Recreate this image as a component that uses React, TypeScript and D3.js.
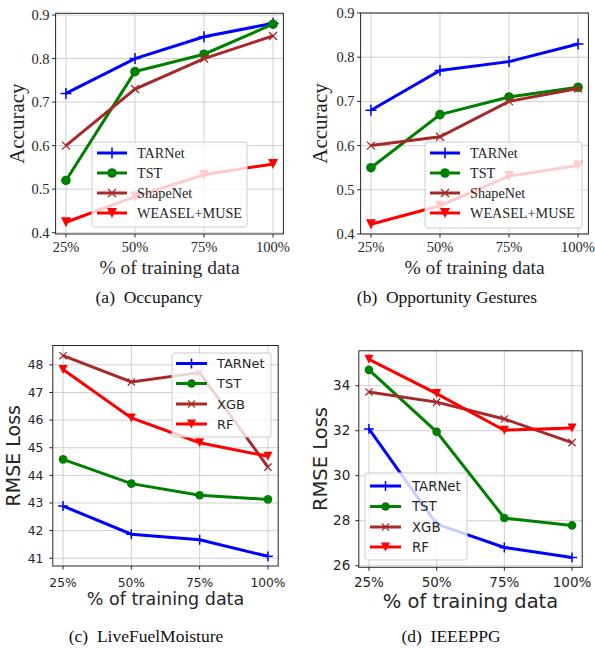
import React from 'react';
import * as d3 from 'd3';

// x categories shared by all four panels
const trainPct = ['25%', '50%', '75%', '100%'];

// (a) Occupancy
const occTARNet = [0.72, 0.8, 0.85, 0.881];
const occTST = [0.52, 0.77, 0.81, 0.879];
const occShapeNet = [0.6, 0.73, 0.8, 0.852];
const occWeasel = [0.424, 0.483, 0.533, 0.558];
const occTicks = [0.4, 0.5, 0.6, 0.7, 0.8, 0.9];

// (b) Opportunity Gestures
const oppTARNet = [0.68, 0.77, 0.79, 0.83];
const oppTST = [0.55, 0.67, 0.71, 0.732];
const oppShapeNet = [0.6, 0.62, 0.7, 0.729];
const oppWeasel = [0.422, 0.464, 0.531, 0.555];
const oppTicks = [0.4, 0.5, 0.6, 0.7, 0.8, 0.9];

// (c) LiveFuelMoisture
const lfmTARNet = [42.89, 41.87, 41.67, 41.07];
const lfmTST = [44.58, 43.7, 43.28, 43.13];
const lfmXGB = [48.33, 47.38, 47.72, 44.3];
const lfmRF = [47.83, 46.08, 45.18, 44.69];
const lfmTicks = [41, 42, 43, 44, 45, 46, 47, 48];

// (d) IEEEPPG
const ppgTARNet = [32.08, 27.85, 26.81, 26.37];
const ppgTST = [34.7, 31.95, 28.12, 27.79];
const ppgXGB = [33.72, 33.27, 32.52, 31.47];
const ppgRF = [35.17, 33.65, 32.02, 32.12];
const ppgTicks = [26, 28, 30, 32, 34];

const BLUE = '#0000ff';
const GREEN = '#008000';
const BROWN = '#a52a2a';
const RED = '#ff0000';

type Mk = 'plus' | 'circle' | 'x' | 'tri';

const Marker = ({ t, x, y, c, s }: { t: Mk; x: number; y: number; c: string; s: number }) => {
  if (t === 'circle') return <circle cx={x} cy={y} r={s * 0.48} fill={c} />;
  if (t === 'plus')
    return <path d={`M${x - s * 0.55},${y}H${x + s * 0.55}M${x},${y - s * 0.55}V${y + s * 0.55}`} stroke={c} strokeWidth={1.5} />;
  if (t === 'x') {
    const h = s * 0.4;
    return <path d={`M${x - h},${y - h}L${x + h},${y + h}M${x - h},${y + h}L${x + h},${y - h}`} stroke={c} strokeWidth={1.3} />;
  }
  const h = s * 0.5;
  return <path d={`M${x - h},${y - h}L${x + h},${y - h}L${x},${y + h}Z`} fill={c} />;
};

const serif = 'Liberation Serif, Times New Roman, serif';
const sans = 'DejaVu Sans, sans-serif';

const panels = [
  {
    box: [55.6, 13.3, 283.4, 234], dom: [0.397, 0.904], ticks: occTicks, fmt: d3.format('.1f'),
    font: serif, tickSize: 14.5, labSize: 19.5, ylabSize: 21, ylab: 'Accuracy', ylabX: 17, xlabY: 274, tickY: 252, gap: 6,
    caption: '(a)  Occupancy', capX: 149, capY: 303, legFont: 14.2, lw: 3, ms: 10,
    series: [
      { name: 'TARNet', v: occTARNet, c: BLUE, m: 'plus' as Mk },
      { name: 'TST', v: occTST, c: GREEN, m: 'circle' as Mk },
      { name: 'ShapeNet', v: occShapeNet, c: BROWN, m: 'x' as Mk },
      { name: 'WEASEL+MUSE', v: occWeasel, c: RED, m: 'tri' as Mk },
    ],
    leg: { x: 92, y: 142, w: 155, h: 85, rows: [153, 173, 193, 213], hx: 97, hw: 30, tx: 137 },
  },
  {
    box: [360.6, 13, 588.4, 234], dom: [0.4, 0.9], ticks: oppTicks, fmt: d3.format('.1f'),
    font: serif, tickSize: 14.5, labSize: 19.5, ylabSize: 21, ylab: 'Accuracy', ylabX: 320, xlabY: 274, tickY: 252, gap: 6,
    caption: '(b)  Opportunity Gestures', capX: 447, capY: 303, legFont: 14.2, lw: 3, ms: 10,
    series: [
      { name: 'TARNet', v: oppTARNet, c: BLUE, m: 'plus' as Mk },
      { name: 'TST', v: oppTST, c: GREEN, m: 'circle' as Mk },
      { name: 'ShapeNet', v: oppShapeNet, c: BROWN, m: 'x' as Mk },
      { name: 'WEASEL+MUSE', v: oppWeasel, c: RED, m: 'tri' as Mk },
    ],
    leg: { x: 425, y: 142, w: 157, h: 86, rows: [153, 173, 193, 213], hx: 430, hw: 30, tx: 470 },
  },
  {
    box: [52.8, 345.5, 278.2, 566], dom: [40.72, 48.7], ticks: lfmTicks, fmt: d3.format('d'),
    font: sans, tickSize: 12.3, labSize: 17.5, ylabSize: 19, ylab: 'RMSE Loss', ylabX: 13, xlabY: 604.5, tickY: 587, gap: 9.5,
    caption: '(c)  LiveFuelMoisture', capX: 146, capY: 642, legFont: 13, lw: 3, ms: 9,
    series: [
      { name: 'TARNet', v: lfmTARNet, c: BLUE, m: 'plus' as Mk },
      { name: 'TST', v: lfmTST, c: GREEN, m: 'circle' as Mk },
      { name: 'XGB', v: lfmXGB, c: BROWN, m: 'x' as Mk },
      { name: 'RF', v: lfmRF, c: RED, m: 'tri' as Mk },
    ],
    leg: { x: 172, y: 353, w: 99, h: 84, rows: [363.5, 383.5, 404, 424], hx: 176, hw: 31, tx: 217 },
  },
  {
    box: [358.8, 350.8, 582.2, 567.3], dom: [25.93, 35.55], ticks: ppgTicks, fmt: d3.format('d'),
    font: sans, tickSize: 13.5, labSize: 19.5, ylabSize: 19.5, ylab: 'RMSE Loss', ylabX: 320, xlabY: 607.5, tickY: 586.5, gap: 8.5,
    caption: '(d)  IEEEPPG', capX: 451, capY: 642, legFont: 13.3, lw: 3, ms: 9,
    series: [
      { name: 'TARNet', v: ppgTARNet, c: BLUE, m: 'plus' as Mk },
      { name: 'TST', v: ppgTST, c: GREEN, m: 'circle' as Mk },
      { name: 'XGB', v: ppgXGB, c: BROWN, m: 'x' as Mk },
      { name: 'RF', v: ppgRF, c: RED, m: 'tri' as Mk },
    ],
    leg: { x: 365, y: 473, w: 102, h: 87, rows: [486, 506.5, 527, 547], hx: 370, hw: 31, tx: 412 },
  },
];

const Panel = ({ p, idx }: { p: any; idx: number }) => {
  const [l, t, r, b] = p.box;
  const x = d3.scalePoint<string>().domain(trainPct).range([l, r]).padding(0.15);
  const y = d3.scaleLinear().domain(p.dom).range([b, t]);
  const line = d3.line<number>().x((_, i) => x(trainPct[i])!).y((d) => y(d));
  const clipId = `clip${idx}`;
  const L = p.leg;
  return (
    <g>
      <defs>
        <clipPath id={clipId}>
          <rect x={l} y={t} width={r - l} height={b - t} />
        </clipPath>
      </defs>
      {/* grid */}
      {p.ticks.map((v: number) => (
        <line key={'gy' + v} x1={l} x2={r} y1={y(v)} y2={y(v)} stroke="#d0d0d0" strokeWidth={1} />
      ))}
      {trainPct.map((c) => (
        <line key={'gx' + c} x1={x(c)} x2={x(c)} y1={t} y2={b} stroke="#d0d0d0" strokeWidth={1} />
      ))}
      {/* series */}
      {p.series.map((s: any) => (
        <g key={s.name}>
          <path d={line(s.v)!} fill="none" stroke={s.c} strokeWidth={p.lw} clipPath={`url(#${clipId})`} />
          {s.v.map((v: number, i: number) => (
            <Marker key={i} t={s.m} x={x(trainPct[i])!} y={y(v)} c={s.c} s={p.ms} />
          ))}
        </g>
      ))}
      {/* frame */}
      <rect x={l} y={t} width={r - l} height={b - t} fill="none" stroke="#262626" strokeWidth={1} />
      {/* y ticks */}
      {p.ticks.map((v: number) => (
        <g key={'ty' + v}>
          <line x1={l - 3.5} x2={l} y1={y(v)} y2={y(v)} stroke="#262626" />
          <text x={l - p.gap} y={y(v)} dy="0.35em" textAnchor="end" fontFamily={p.font} fontSize={p.tickSize} fill="#262626">
            {p.fmt(v)}
          </text>
        </g>
      ))}
      {/* x ticks */}
      {trainPct.map((c) => (
        <g key={'tx' + c}>
          <line x1={x(c)} x2={x(c)} y1={b} y2={b + 3.5} stroke="#262626" />
          <text x={x(c)} y={p.tickY} textAnchor="middle" fontFamily={p.font} fontSize={p.tickSize} fill="#262626">
            {c}
          </text>
        </g>
      ))}
      {/* axis labels */}
      <text x={(l + r) / 2} y={p.xlabY} textAnchor="middle" fontFamily={p.font} fontSize={p.labSize} fill="#262626">
        % of training data
      </text>
      <text
        transform={`translate(${p.ylabX},${(t + b) / 2}) rotate(-90)`}
        textAnchor="middle"
        dy="0.35em"
        fontFamily={p.font}
        fontSize={p.ylabSize || p.labSize}
        fill="#262626"
      >
        {p.ylab}
      </text>
      {/* legend */}
      <rect x={L.x} y={L.y} width={L.w} height={L.h} rx={2.5} fill="#ffffff" fillOpacity={0.8} stroke="#cccccc" strokeWidth={1} />
      {p.series.map((s: any, i: number) => (
        <g key={'lg' + s.name}>
          <line x1={L.hx} x2={L.hx + L.hw} y1={L.rows[i]} y2={L.rows[i]} stroke={s.c} strokeWidth={p.lw} />
          <Marker t={s.m} x={L.hx + L.hw / 2} y={L.rows[i]} c={s.c} s={p.ms} />
          <text x={L.tx} y={L.rows[i]} dy="0.35em" fontFamily={p.font} fontSize={p.legFont} fill="#262626">
            {s.name}
          </text>
        </g>
      ))}
      {/* caption */}
      <text x={p.capX} y={p.capY} textAnchor="middle" fontFamily={serif} fontSize={17.5} fill="#111" style={{ whiteSpace: 'pre' }}>
        {p.caption}
      </text>
    </g>
  );
};

export default function App() {
  return (
    <svg width={595} height={649} style={{ position: 'absolute', left: 0, top: 0, background: '#fff' }}>
      <rect width={595} height={649} fill="#fff" />
      {panels.map((p, i) => (
        <Panel key={i} p={p} idx={i} />
      ))}
    </svg>
  );
}
